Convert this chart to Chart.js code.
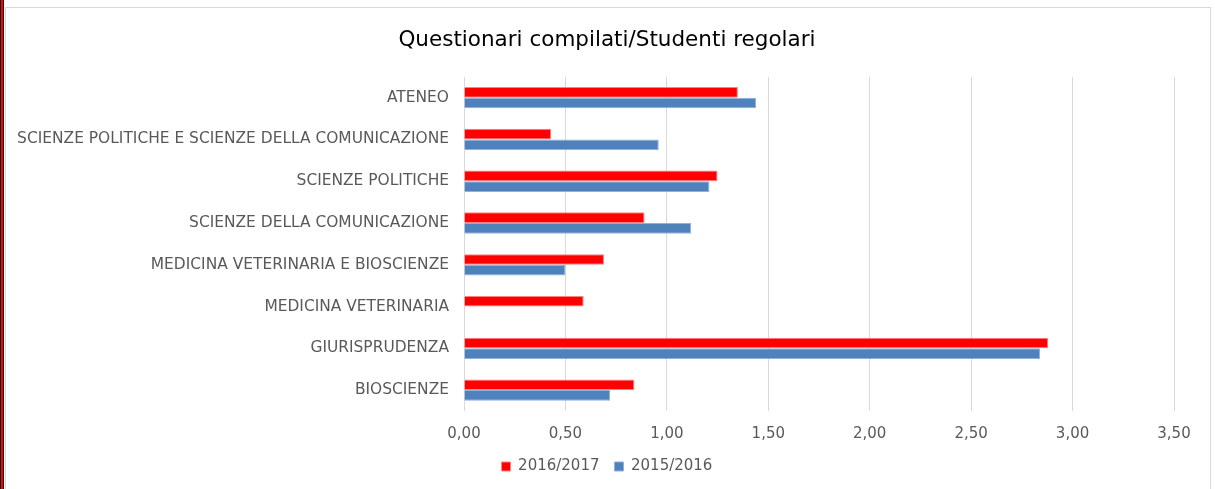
<!DOCTYPE html>
<html>
<head>
<meta charset="utf-8">
<script src="https://cdn.jsdelivr.net/npm/chart.js@4"></script>
<style>
    html, body { margin: 0; padding: 0; background: #fff; }
    body { width: 1215px; height: 489px; position: relative; overflow: hidden; }
    /* red strip on the far left of the screenshot */
    .strip {
        position: absolute; left: 0; top: 0; width: 2px; height: 489px;
        background: #ff0000; border-left: 1px solid #000; border-right: 1px solid #000;
    }
    .frame {
        position: absolute; left: 5px; top: 7px; width: 1206px; height: 490px;
        border: 1px solid #d9d9d9; box-sizing: border-box;
    }
    #chart { position: absolute; left: 6px; top: 8px; }
</style>
</head>
<body>
<div class="strip"></div>
<div class="frame"></div>
<canvas id="chart" width="1202" height="481"></canvas>
<script>
// Chart data
const categories = [
    'ATENEO',
    'SCIENZE POLITICHE E SCIENZE DELLA COMUNICAZIONE',
    'SCIENZE POLITICHE',
    'SCIENZE DELLA COMUNICAZIONE',
    'MEDICINA VETERINARIA E BIOSCIENZE',
    'MEDICINA VETERINARIA',
    'GIURISPRUDENZA',
    'BIOSCIENZE'
];
const series2016 = [1.35, 0.43, 1.25, 0.89, 0.69, 0.59, 2.88, 0.84];
const series2015 = [1.44, 0.96, 1.21, 1.12, 0.50, null, 2.84, 0.72];
const xTicks = [0, 0.5, 1, 1.5, 2, 2.5, 3, 3.5];

const labelColor = '#595959';
const font = 'DejaVu Sans';

function formatComma(v) {
    return Number(v).toFixed(2).replace('.', ',');
}

const ctx = document.getElementById('chart');
new Chart(ctx, {
    type: 'bar',
    data: {
        labels: categories,
        datasets: [{
            label: '2016/2017',
            data: series2016,
            backgroundColor: '#ff0000',
            borderColor: '#ff8080',
            borderWidth: 1,
            categoryPercentage: 0.51,
            barPercentage: 1
        }, {
            label: '2015/2016',
            data: series2015,
            backgroundColor: '#4f81bd',
            borderColor: '#8eb0dc',
            borderWidth: 1,
            categoryPercentage: 0.51,
            barPercentage: 1
        }]
    },
    options: {
        indexAxis: 'y',
        responsive: false,
        animation: false,
        layout: {
            padding: { left: 0, right: 0, top: 8, bottom: 5 }
        },
        plugins: {
            title: {
                display: true,
                text: 'Questionari compilati/Studenti regolari',
                color: '#000',
                font: { family: font, size: 21.5, weight: 'normal' },
                padding: { top: 12, bottom: 23 }
            },
            legend: {
                position: 'bottom',
                labels: {
                    color: labelColor,
                    font: { family: font, size: 15 },
                    boxWidth: 9,
                    boxHeight: 9,
                    padding: 15
                }
            },
            tooltip: { enabled: false }
        },
        scales: {
            x: {
                min: 0,
                max: 3.5,
                afterBuildTicks: (scale) => {
                    scale.ticks = xTicks.map(v => ({ value: v }));
                },
                afterFit: (scale) => { scale.height = 33; },
                ticks: {
                    color: labelColor,
                    font: { family: font, size: 15 },
                    padding: 14,
                    callback: (v) => formatComma(v)
                },
                grid: {
                    color: '#d9d9d9',
                    lineWidth: 1,
                    drawTicks: false
                },
                border: { display: false }
            },
            y: {
                afterFit: (scale) => { scale.width = 458; },
                ticks: {
                    color: labelColor,
                    font: { family: font, size: 15.45 },
                    padding: 7
                },
                grid: { display: false },
                border: { display: false }
            },
            // empty axis on the right, only to keep space after the last gridline
            yRight: {
                position: 'right',
                afterFit: (scale) => { scale.width = 34; },
                ticks: { display: false },
                grid: { display: false },
                border: { display: false }
            }
        }
    }
});
</script>
</body>
</html>
